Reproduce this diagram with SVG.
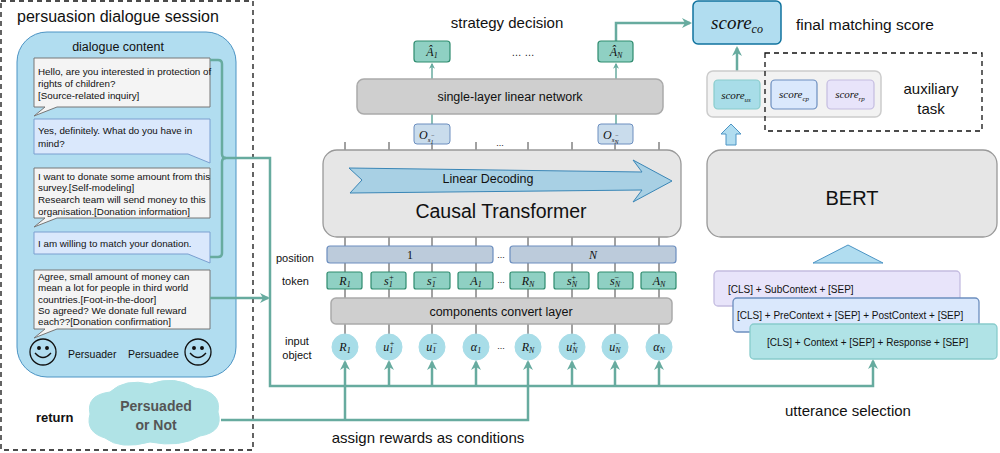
<svg xmlns="http://www.w3.org/2000/svg" width="1000" height="453" viewBox="0 0 1000 453">
<style>
text{font-family:"Liberation Sans",Arial,sans-serif;fill:#111}
.m{font-family:"Liberation Serif","DejaVu Serif",serif;font-style:italic}
.c{text-anchor:middle}
.tok{fill:#8fd0c3;stroke:#2e8b6e;stroke-width:1.2}
.gray{fill:#cfcfcf;stroke:#aaa;stroke-width:1.5}
.pos{fill:#bccbdb;stroke:#6c8ebf;stroke-width:1.2}
.circ{fill:#a8dde8;stroke:#a8dde8}
.con{stroke:#67ab9f;stroke-width:2.5;fill:none}
.tick{stroke:#444;stroke-width:1}
.bub{fill:#f4f4f4;stroke:#777;stroke-width:1}
.bub2{fill:#dae8fc;stroke:#7a9fd0;stroke-width:1}
.s{font-size:9.8px}
</style>
<defs>
<marker id="ah" viewBox="0 0 10 10" refX="8" refY="5" markerWidth="4" markerHeight="4" orient="auto"><path d="M0,0 L10,5 L0,10 L3,5 z" fill="#67ab9f"/></marker>
</defs>
<g id="session">
<rect x="1" y="1" width="252" height="449" fill="none" stroke="#111" stroke-dasharray="5,4" stroke-width="1.3"/>
<text x="17" y="22" font-size="16">persuasion dialogue session</text>
<rect x="17" y="32" width="219" height="345" rx="30" fill="#b1ddf0" stroke="#4c94c4"/>
<text x="118" y="51" class="c" font-size="12.5">dialogue content</text>
</g>
<g id="bubble1"><path class="bub" d="M34,58 H210 V107 H57 L34,116 L45,107 H34 Z"/>
<text class="s" x="38" y="75">Hello, are you interested in protection of</text><text class="s" x="38" y="87">rights of children?</text><text class="s" x="38" y="99">[Source-related inquiry]</text></g>
<g id="bubble2"><path class="bub2" d="M34,119 H210 V163 L188,154 H34 Z"/>
<text class="s" x="38" y="134">Yes, definitely. What do you have in</text><text class="s" x="38" y="147">mind?</text></g>
<g id="bubble3"><path class="bub" d="M34,168 H210 V218 H57 L34,227 L45,218 H34 Z"/>
<text class="s" x="38" y="180">I want to donate some amount from this</text><text class="s" x="38" y="191">survey.[Self-modeling]</text><text class="s" x="38" y="203">Research team will send money to this</text><text class="s" x="38" y="215">organisation.[Donation information]</text></g>
<g id="bubble4"><path class="bub2" d="M34,232 H210 V263 L188,254 H34 Z"/>
<text class="s" x="38" y="247">I am willing to match your donation.</text></g>
<g id="bubble5"><path class="bub" d="M34,270 H210 V329 H57 L34,338 L45,329 H34 Z"/>
<text class="s" x="38" y="280">Agree, small amount of money can</text><text class="s" x="38" y="291">mean a lot for people in third world</text><text class="s" x="38" y="303">countries.[Foot-in-the-door]</text><text class="s" x="38" y="314">So agreed? We donate full reward</text><text class="s" x="38" y="325">each??[Donation confirmation]</text></g>
<g id="smileys" fill="none" stroke="#111" stroke-width="1.3">
<circle cx="43" cy="352" r="13" fill="#b1ddf0"/><circle cx="39" cy="348" r="1.3" fill="#111"/><circle cx="47" cy="348" r="1.3" fill="#111"/><path d="M35,353 Q43,362 51,353"/>
<circle cx="198" cy="352" r="13" fill="#b1ddf0"/><circle cx="194" cy="348" r="1.3" fill="#111"/><circle cx="202" cy="348" r="1.3" fill="#111"/><path d="M190,353 Q198,362 206,353"/>
</g>
<text x="68" y="358" font-size="10.5">Persuader</text><text x="128" y="358" font-size="10.5">Persuadee</text>
<g id="cloud"><path d="M110,392 Q125,378 150,384 Q175,375 195,388 Q222,392 218,412 Q224,432 200,436 Q180,448 150,442 Q120,450 105,438 Q85,432 90,414 Q86,395 110,392 Z" fill="#b0e3e6" stroke="#b0e3e6"/>
<text x="156" y="411" class="c" font-size="14" font-weight="bold" style="fill:#555">Persuaded</text><text x="156" y="430" class="c" font-size="14" font-weight="bold" style="fill:#555">or Not</text></g>
<text x="36" y="422" font-size="13" font-weight="bold">return</text>

<g id="connectors">
<path class="con" d="M210,60 H218 Q222,60 222,64 V154 Q222,158 226,158 H270 V386 H873 V361" marker-end="url(#ah)"/>
<path class="con" d="M210,257 H218 Q222,257 222,253 V162 Q222,158 226,158" />
<path class="con" d="M210,298 H268" marker-end="url(#ah)"/>
<path class="con" d="M221,420 H528 V362" marker-end="url(#ah)"/>
<path class="con" d="M345,420 V362" marker-end="url(#ah)"/>
<path class="con" d="M389,386 V362" marker-end="url(#ah)"/><path class="con" d="M432,386 V362" marker-end="url(#ah)"/><path class="con" d="M476,386 V362" marker-end="url(#ah)"/><path class="con" d="M572,386 V362" marker-end="url(#ah)"/><path class="con" d="M615,386 V362" marker-end="url(#ah)"/><path class="con" d="M659,386 V362" marker-end="url(#ah)"/>
<path class="con" d="M616,41 V23 H690" marker-end="url(#ah)"/>
<path stroke="#67ab9f" stroke-width="1.5" d="M432,79 V64" marker-end="url(#ah)"/>
<path stroke="#67ab9f" stroke-width="1.5" d="M616,79 V64" marker-end="url(#ah)"/>
<path stroke="#67ab9f" stroke-width="1.5" d="M432,114 V124 M616,114 V124"/>
<path class="con" d="M737,80 V48" marker-end="url(#ah)"/>
</g>

<g id="ticks" class="tick">
<path d="M345,142V337 M389,142V337 M432,142V337 M476,142V337 M528,142V337 M572,142V337 M615,142V337 M659,142V337"/>
</g>
<g id="transformer"><rect x="323" y="150" width="358" height="87" rx="14" fill="#e6e6e6" stroke="#999" stroke-width="1.3"/>
<path d="M349,168 L642,172 L633,160 L672,181 L633,202 L642,190 L350,193 L362,180 Z" fill="#a8d0e4" stroke="#3a86b6" stroke-width="1"/>
<text x="488" y="183" class="c" font-size="12.5">Linear Decoding</text>
<text x="501" y="218" class="c" font-size="19.5">Causal Transformer</text></g>
<text x="500" y="146" class="c" font-size="9">...</text>
<g id="linear"><rect x="357" y="79" width="306" height="35" rx="7" class="gray"/><text x="510" y="101" class="c" font-size="12.5">single-layer linear network</text></g>
<g id="O1"><rect x="414" y="124" width="36" height="20" rx="3" fill="#c9dcec" stroke="#6c8ebf"/><text class="m" x="419" y="139" font-size="12">O<tspan font-size="7" dy="3">s</tspan><tspan font-size="6" dy="-5">−</tspan><tspan font-size="6" dx="-4" dy="7">1</tspan></text></g>
<g id="ON"><rect x="598" y="124" width="35" height="20" rx="3" fill="#c9dcec" stroke="#6c8ebf"/><text class="m" x="603" y="139" font-size="12">O<tspan font-size="7" dy="3">s</tspan><tspan font-size="6" dy="-5">−</tspan><tspan font-size="6" dx="-4" dy="7">N</tspan></text></g>
<g id="A1hat"><rect x="414" y="41" width="36" height="21" rx="3" class="tok"/><text class="m c" x="432" y="56" font-size="12">Â<tspan font-size="8" dy="2">1</tspan></text></g>
<g id="ANhat"><rect x="598" y="41" width="35" height="21" rx="3" class="tok"/><text class="m c" x="616" y="56" font-size="12">Â<tspan font-size="8" dy="2">N</tspan></text></g>
<text x="523" y="56" class="c" font-size="10">… …</text>
<text x="507" y="28" class="c" font-size="15">strategy decision</text>
<g id="pos"><rect x="327" y="246" width="166" height="17" rx="3" class="pos"/><text x="410" y="259" class="c" style="font-family:'Liberation Serif',serif" font-size="12">1</text>
<rect x="510" y="246" width="166" height="17" rx="3" class="pos"/><text x="593" y="259" class="m c" font-size="12">N</text></g>
<text x="501" y="258" class="c" font-size="9">...</text>
<g id="tokens" font-size="12">
<rect x="327" y="272" width="35" height="17" rx="2" class="tok"/><text class="m c" x="345" y="285">R<tspan font-size="8" dy="2">1</tspan></text>
<rect x="371" y="272" width="35" height="17" rx="2" class="tok"/><text class="m c" x="389" y="285">s<tspan font-size="8" dy="2">1</tspan><tspan font-size="8" dx="-4" dy="-7">+</tspan></text>
<rect x="414" y="272" width="36" height="17" rx="2" class="tok"/><text class="m c" x="432" y="285">s<tspan font-size="8" dy="2">1</tspan><tspan font-size="8" dx="-4" dy="-7">−</tspan></text>
<rect x="458" y="272" width="35" height="17" rx="2" class="tok"/><text class="m c" x="476" y="285">A<tspan font-size="8" dy="2">1</tspan></text>
<rect x="510" y="272" width="35" height="17" rx="2" class="tok"/><text class="m c" x="528" y="285">R<tspan font-size="8" dy="2">N</tspan></text>
<rect x="554" y="272" width="35" height="17" rx="2" class="tok"/><text class="m c" x="572" y="285">s<tspan font-size="8" dy="2">N</tspan><tspan font-size="8" dx="-6" dy="-7">+</tspan></text>
<rect x="598" y="272" width="35" height="17" rx="2" class="tok"/><text class="m c" x="615" y="285">s<tspan font-size="8" dy="2">N</tspan><tspan font-size="8" dx="-6" dy="-7">−</tspan></text>
<rect x="641" y="272" width="35" height="17" rx="2" class="tok"/><text class="m c" x="659" y="285">A<tspan font-size="8" dy="2">N</tspan></text>
</g>
<text x="501" y="283" class="c" font-size="9">...</text>
<g id="convert"><rect x="331" y="298" width="341" height="26" rx="5" class="gray"/><text x="501" y="316" class="c" font-size="12.5">components convert layer</text></g>
<g id="inputs" font-size="12">
<circle cx="345" cy="347" r="13" class="circ"/><text class="m c" x="345" y="351">R<tspan font-size="8" dy="2">1</tspan></text>
<circle cx="389" cy="347" r="13" class="circ"/><text class="m c" x="389" y="351">u<tspan font-size="8" dy="2">1</tspan><tspan font-size="8" dx="-4" dy="-7">+</tspan></text>
<circle cx="432" cy="347" r="13" class="circ"/><text class="m c" x="432" y="351">u<tspan font-size="8" dy="2">1</tspan><tspan font-size="8" dx="-4" dy="-7">−</tspan></text>
<circle cx="476" cy="347" r="13" class="circ"/><text class="m c" x="476" y="351">α<tspan font-size="8" dy="2">1</tspan></text>
<circle cx="528" cy="347" r="13" class="circ"/><text class="m c" x="528" y="351">R<tspan font-size="8" dy="2">N</tspan></text>
<circle cx="572" cy="347" r="13" class="circ"/><text class="m c" x="572" y="351">u<tspan font-size="8" dy="2">N</tspan><tspan font-size="8" dx="-6" dy="-7">+</tspan></text>
<circle cx="615" cy="347" r="13" class="circ"/><text class="m c" x="615" y="351">u<tspan font-size="8" dy="2">N</tspan><tspan font-size="8" dx="-6" dy="-7">−</tspan></text>
<circle cx="659" cy="347" r="13" class="circ"/><text class="m c" x="659" y="351">α<tspan font-size="8" dy="2">N</tspan></text>
</g>
<text x="501" y="349" class="c" font-size="9">...</text>
<g font-size="11"><text x="276" y="262">position</text><text x="282" y="285">token</text><text x="297" y="345" class="c">input</text><text x="297" y="359" class="c">object</text></g>
<text x="428" y="443" class="c" font-size="15">assign rewards as conditions</text>

<g id="scoreco"><rect x="693" y="1" width="88" height="43" rx="5" fill="#b1ddf0" stroke="#10739e" stroke-width="1.5"/><text class="m c" x="737" y="29" font-size="19">score<tspan font-size="12" dy="4">co</tspan></text></g>
<text x="796" y="30" font-size="15.5">final matching score</text>
<g id="scoregroup"><rect x="707" y="71" width="174" height="46" rx="6" fill="#f2f2f2" stroke="#ccc" stroke-width="1.5"/>
<rect x="714" y="80" width="46" height="29" rx="4" fill="#a8dde8" stroke="#8cc" stroke-width="1.2"/><text class="m c" x="736" y="99" font-size="11">score<tspan font-size="7" dy="3">us</tspan></text>
<rect x="771" y="80" width="46" height="29" rx="4" fill="#dae8fc" stroke="#6c8ebf" stroke-width="1.2"/><text class="m c" x="794" y="98" font-size="11">score<tspan font-size="7" dy="3">cp</tspan></text>
<rect x="827" y="80" width="47" height="29" rx="4" fill="#e8e4fa" stroke="#c4bce0" stroke-width="1.2"/><text class="m c" x="850" y="98" font-size="11">score<tspan font-size="7" dy="3">rp</tspan></text></g>
<g id="aux"><rect x="765" y="53" width="217" height="78" fill="none" stroke="#111" stroke-dasharray="5,4" stroke-width="1.3"/>
<text x="931" y="94" class="c" font-size="15">auxiliary</text><text x="931" y="114" class="c" font-size="15">task</text></g>
<path d="M731,124 L741,134 H736 V145 H726 V134 H721 Z" fill="#b1ddf0" stroke="#4c94c4"/>
<g id="bert"><rect x="707" y="150" width="290" height="87" rx="14" fill="#e6e6e6" stroke="#999" stroke-width="1.3"/><text x="852" y="205" class="c" font-size="20">BERT</text></g>
<path d="M813,263 L848,245 L883,263 Z" fill="#b1ddf0" stroke="#4c94c4"/>
<g id="inputboxes" font-size="10">
<rect x="714" y="271" width="246" height="35" rx="4" fill="#e8e4fa" stroke="#c4bce0" stroke-width="1.3"/><text x="728" y="293">[CLS] + SubContext + [SEP]</text>
<rect x="733" y="298" width="246" height="34" rx="4" fill="#dae8fc" stroke="#6c8ebf" stroke-width="1.3"/><text x="737" y="319">[CLS] + PreContext + [SEP] + PostContext + [SEP]</text>
<rect x="750" y="324" width="247" height="35" rx="4" fill="#b0e3e6" stroke="#8cc" stroke-width="1.3"/><text x="767" y="346">[CLS] + Context + [SEP] + Response + [SEP]</text>
</g>
<text x="848" y="416" class="c" font-size="15">utterance selection</text>
</svg>
